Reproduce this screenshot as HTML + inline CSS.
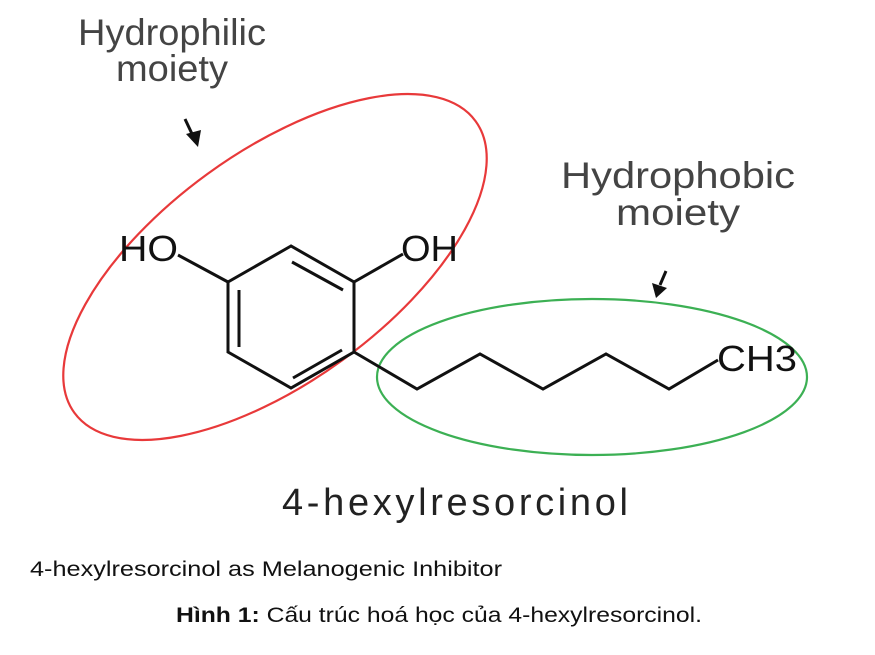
<!DOCTYPE html>
<html><head><meta charset="utf-8"><style>
body{margin:0;background:#fff;width:875px;height:650px;overflow:hidden}
</style></head><body>
<svg width="875" height="650" viewBox="0 0 875 650" xmlns="http://www.w3.org/2000/svg">
<g font-family="Liberation Sans, sans-serif" fill="#444" font-size="37">
<text x="78" y="45" textLength="188" lengthAdjust="spacingAndGlyphs">Hydrophilic</text>
<text x="116" y="81" textLength="112" lengthAdjust="spacingAndGlyphs">moiety</text>
<text x="561" y="188" textLength="234" lengthAdjust="spacingAndGlyphs">Hydrophobic</text>
<text x="616" y="225" textLength="124" lengthAdjust="spacingAndGlyphs">moiety</text>
</g>
<ellipse cx="275" cy="267" rx="248" ry="115" transform="rotate(-36 275 267)" fill="none" stroke="#e8393a" stroke-width="2.2"/>
<ellipse cx="592" cy="377" rx="215" ry="78" fill="none" stroke="#3cb054" stroke-width="2.2"/>
<g stroke="#111" stroke-width="3" fill="none" stroke-linejoin="miter">
<polygon points="291,246 228,282 228,352 291,388 354,352 354,282"/>
<line x1="239" y1="290" x2="239" y2="347"/>
<line x1="292" y1="262" x2="343" y2="290"/>
<line x1="293" y1="378" x2="342" y2="350"/>
<line x1="228" y1="282" x2="178" y2="255"/>
<line x1="354" y1="282" x2="403" y2="254"/>
<polyline points="354,352 417,389 480,354 543,389 606,354 669,389 718,360"/>
<line x1="185" y1="119" x2="193" y2="136" stroke-width="3"/>
<line x1="666" y1="271" x2="660" y2="285" stroke-width="3"/>
</g>
<polygon points="186,134 201,130 198,147" fill="#111"/>
<polygon points="652,283 667,288 656,298" fill="#111"/>
<g font-family="Liberation Sans, sans-serif" fill="#111" font-size="36">
<text x="119" y="261" textLength="59" lengthAdjust="spacingAndGlyphs">HO</text>
<text x="401" y="261" textLength="57" lengthAdjust="spacingAndGlyphs">OH</text>
<text x="717" y="371" textLength="80" lengthAdjust="spacingAndGlyphs">CH3</text>
</g>
<text x="282" y="515" font-family="Liberation Sans, sans-serif" font-size="38" fill="#222" textLength="346" lengthAdjust="spacing">4-hexylresorcinol</text>
<text x="30" y="576" font-family="Liberation Sans, sans-serif" font-size="21" fill="#111" textLength="472" lengthAdjust="spacingAndGlyphs">4-hexylresorcinol as Melanogenic Inhibitor</text>
<text x="176" y="622" font-family="Liberation Sans, sans-serif" font-size="21" fill="#111" textLength="526" lengthAdjust="spacingAndGlyphs"><tspan font-weight="bold">Hình 1:</tspan> Cấu trúc hoá học của 4-hexylresorcinol.</text>
</svg>
</body></html>
